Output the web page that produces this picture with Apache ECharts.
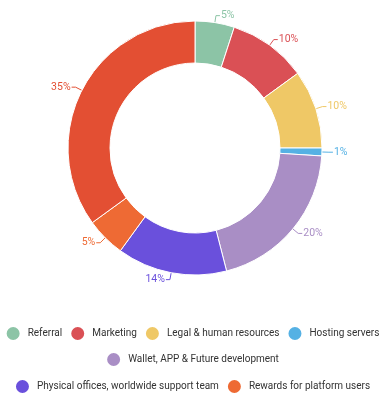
<!DOCTYPE html>
<html>
<head>
<meta charset="utf-8">
<script src="https://cdn.jsdelivr.net/npm/echarts@6/dist/echarts.min.js"></script>
<style>html,body{margin:0;padding:0;background:#fff}#c{width:384px;height:400px}</style>
</head>
<body>
<div id="c"></div>
<script>
const categories = ["Referral", "Marketing", "Legal & human resources", "Hosting servers", "Wallet, APP & Future development", "Physical offices, worldwide support team", "Rewards for platform users", "Token sale"];
const values = [5, 10, 10, 1, 20, 14, 5, 35];
const colors = ["#8cc4a6", "#da5055", "#efc866", "#55b1e4", "#a98ec5", "#6a50dc", "#ee6a34", "#e34f33"];
const legendRows = [categories.slice(0, 4), categories.slice(4, 5), categories.slice(5, 7)];
const legendTops = [325, 351, 378];

const chart = echarts.init(document.getElementById('c'), null, {renderer: 'canvas'});
chart.setOption({
  animation: false,
  legend: legendRows.map((row, r) => ({
    data: row,
    top: legendTops[r],
    left: 'center',
    width: 500,
    padding: 0,
    itemWidth: 15,
    itemHeight: 15,
    itemGap: 7,
    icon: 'circle',
    textStyle: {fontFamily: 'Roboto', fontSize: 10, color: '#333', padding: [0, 0, 0, 2]}
  })),
  series: [{
    type: 'pie',
    center: [195, 148],
    radius: [85, 127],
    startAngle: 90,
    clockwise: true,
    itemStyle: {borderColor: '#fff', borderWidth: 1},
    label: {
      show: true,
      position: 'outside',
      formatter: '{c}%',
      fontFamily: 'Roboto',
      fontSize: 10.5,
      color: 'inherit',
      distanceToLabelLine: 1
    },
    labelLine: {show: true, length: 7, length2: 4, lineStyle: {width: 1}},
    data: categories.map((n, i) => ({name: n, value: values[i], itemStyle: {color: colors[i]}, label: {color: colors[i]}}))
  }]
});
</script>
</body>
</html>
